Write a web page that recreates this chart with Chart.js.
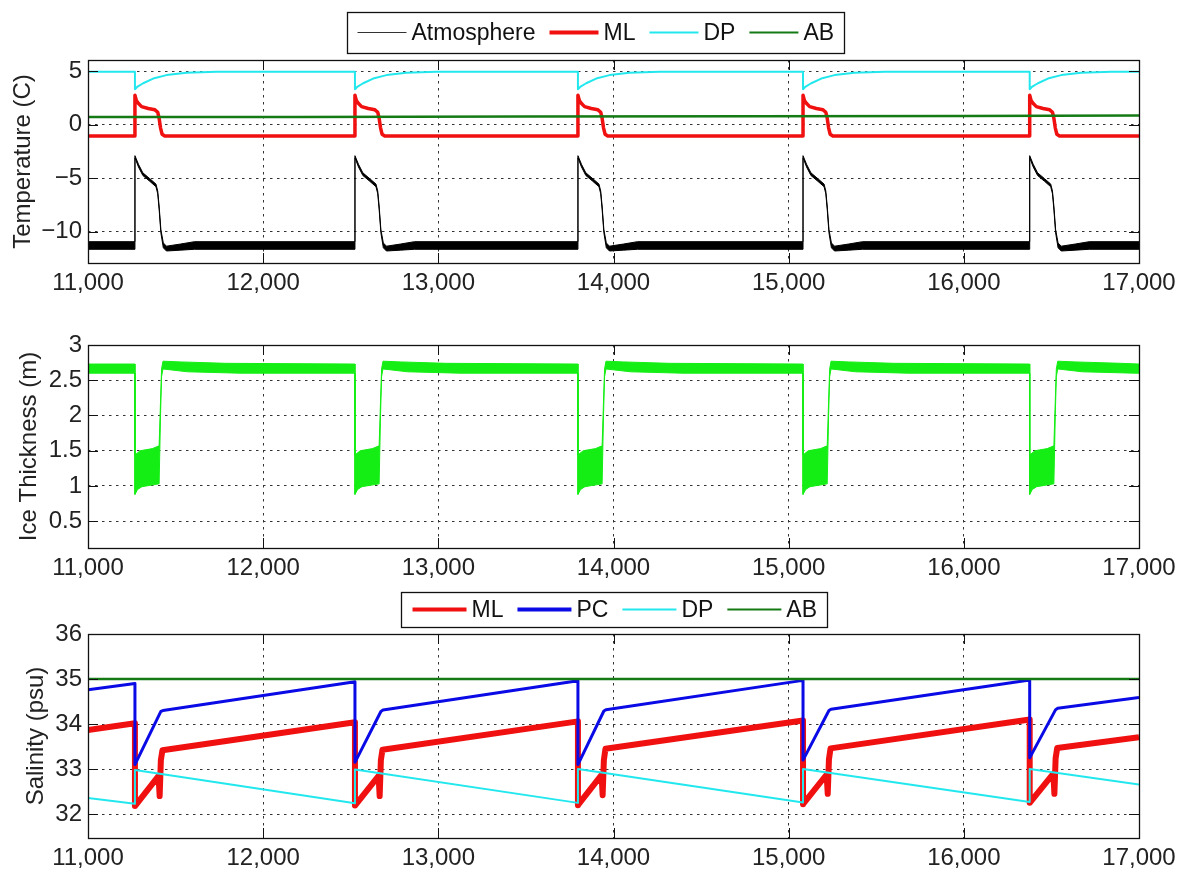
<!DOCTYPE html>
<html><head><meta charset="utf-8">
<script src="https://cdn.jsdelivr.net/npm/chart.js@4.4.1/dist/chart.umd.min.js"></script>
<style>
html,body{margin:0;padding:0;background:#fff;}
#wrap{position:relative;width:1187px;height:871px;overflow:hidden;background:#fff;}
canvas{position:absolute;left:0;}
</style></head><body>
<div id="wrap">
<canvas id="c1" width="1187" height="300" style="top:0px"></canvas>
<canvas id="c2" width="1187" height="285" style="top:300px"></canvas>
<canvas id="c3" width="1187" height="286" style="top:585px"></canvas>
</div>
<script>
// ---------- tick labels ----------
const xTicks = [11000, 12000, 13000, 14000, 15000, 16000, 17000];
const yTicksTemp = [-10, -5, 0, 5];
const yTicksIce = [0.5, 1, 1.5, 2, 2.5, 3];
const yTicksSal = [32, 33, 34, 35, 36];

// ---------- legend labels ----------
const legendTempLabels = ['Atmosphere', 'ML', 'DP', 'AB'];
const legendSalLabels = ['ML', 'PC', 'DP', 'AB'];

// ---------- Panel 1: temperature (C) ----------
const atmHi = [
 [11000,-10.93],
 [11268,-10.93],[11268,-2.9],[11288,-3.7],[11313,-4.5],[11353,-5.05],[11388,-5.55],[11398,-6.2],[11406,-7.6],[11416,-9.8],[11430,-11.05],[11448,-11.35],[11528,-11.15],[11608,-10.93],
 [12524,-10.93],[12524,-2.9],[12544,-3.7],[12569,-4.5],[12609,-5.05],[12644,-5.55],[12654,-6.2],[12662,-7.6],[12672,-9.8],[12686,-11.05],[12704,-11.35],[12784,-11.15],[12864,-10.93],
 [13797,-10.93],[13797,-2.9],[13817,-3.7],[13842,-4.5],[13882,-5.05],[13917,-5.55],[13927,-6.2],[13935,-7.6],[13945,-9.8],[13959,-11.05],[13977,-11.35],[14057,-11.15],[14137,-10.93],
 [15082,-10.93],[15082,-2.9],[15102,-3.7],[15127,-4.5],[15167,-5.05],[15202,-5.55],[15212,-6.2],[15220,-7.6],[15230,-9.8],[15244,-11.05],[15262,-11.35],[15342,-11.15],[15422,-10.93],
 [16376,-10.93],[16376,-2.9],[16396,-3.7],[16421,-4.5],[16461,-5.05],[16496,-5.55],[16506,-6.2],[16514,-7.6],[16524,-9.8],[16538,-11.05],[16556,-11.35],[16636,-11.15],[16716,-10.93],
 [17000,-10.93]
];
const atmLo = [
 [11000,-11.64],
 [11268,-11.64],[11268,-3.1],[11288,-3.95],[11313,-4.75],[11353,-5.3],[11388,-5.8],[11398,-6.45],[11406,-7.9],[11416,-10.1],[11430,-11.5],[11448,-11.8],[11528,-11.72],[11608,-11.64],
 [12524,-11.64],[12524,-3.1],[12544,-3.95],[12569,-4.75],[12609,-5.3],[12644,-5.8],[12654,-6.45],[12662,-7.9],[12672,-10.1],[12686,-11.5],[12704,-11.8],[12784,-11.72],[12864,-11.64],
 [13797,-11.64],[13797,-3.1],[13817,-3.95],[13842,-4.75],[13882,-5.3],[13917,-5.8],[13927,-6.45],[13935,-7.9],[13945,-10.1],[13959,-11.5],[13977,-11.8],[14057,-11.72],[14137,-11.64],
 [15082,-11.64],[15082,-3.1],[15102,-3.95],[15127,-4.75],[15167,-5.3],[15202,-5.8],[15212,-6.45],[15220,-7.9],[15230,-10.1],[15244,-11.5],[15262,-11.8],[15342,-11.72],[15422,-11.64],
 [16376,-11.64],[16376,-3.1],[16396,-3.95],[16421,-4.75],[16461,-5.3],[16496,-5.8],[16506,-6.45],[16514,-7.9],[16524,-10.1],[16538,-11.5],[16556,-11.8],[16636,-11.72],[16716,-11.64],
 [17000,-11.64]
];
const mlTemp = [
 [11000,-1.06],
 [11268,-1.06],[11268,2.75],[11276,2.25],[11287,2.0],[11306,1.68],[11344,1.5],[11382,1.38],[11398,1.15],[11406,0.6],[11414,-0.3],[11423,-0.9],[11438,-1.06],
 [12524,-1.06],[12524,2.75],[12532,2.25],[12543,2.0],[12562,1.68],[12600,1.5],[12638,1.38],[12654,1.15],[12662,0.6],[12670,-0.3],[12679,-0.9],[12694,-1.06],
 [13797,-1.06],[13797,2.75],[13805,2.25],[13816,2.0],[13835,1.68],[13873,1.5],[13911,1.38],[13927,1.15],[13935,0.6],[13943,-0.3],[13952,-0.9],[13967,-1.06],
 [15082,-1.06],[15082,2.75],[15090,2.25],[15101,2.0],[15120,1.68],[15158,1.5],[15196,1.38],[15212,1.15],[15220,0.6],[15228,-0.3],[15237,-0.9],[15252,-1.06],
 [16376,-1.06],[16376,2.75],[16384,2.25],[16395,2.0],[16414,1.68],[16452,1.5],[16490,1.38],[16506,1.15],[16514,0.6],[16522,-0.3],[16531,-0.9],[16546,-1.06],
 [17000,-1.06]
];
const dpTemp = [
 [11000,4.93],
 [11268,4.93],[11268,3.3],[11283,3.55],[11315,3.86],[11372,4.3],[11448,4.62],[11562,4.84],[11734,4.93],
 [12524,4.93],[12524,3.3],[12539,3.55],[12571,3.86],[12628,4.3],[12704,4.62],[12818,4.84],[12990,4.93],
 [13797,4.93],[13797,3.3],[13812,3.55],[13844,3.86],[13901,4.3],[13977,4.62],[14091,4.84],[14263,4.93],
 [15082,4.93],[15082,3.3],[15097,3.55],[15129,3.86],[15186,4.3],[15262,4.62],[15376,4.84],[15548,4.93],
 [16376,4.93],[16376,3.3],[16391,3.55],[16423,3.86],[16480,4.3],[16556,4.62],[16670,4.84],[16842,4.93],
 [17000,4.93]
];
const abTemp = [[11000,0.70],[12200,0.72],[13500,0.75],[14800,0.78],[16000,0.80],[17000,0.84]];

// ---------- Panel 2: ice thickness (m), band envelope ----------
const iceHi = [
 [11000,2.73],
 [11268,2.73],[11268,1.44],[11298,1.5],[11368,1.53],[11406,1.57],[11414,2.2],[11420,2.66],[11428,2.77],[11528,2.76],[11788,2.74],
 [12524,2.73],[12524,1.44],[12554,1.5],[12624,1.53],[12662,1.57],[12670,2.2],[12676,2.66],[12684,2.77],[12784,2.76],[13044,2.74],
 [13797,2.73],[13797,1.44],[13827,1.5],[13897,1.53],[13935,1.57],[13943,2.2],[13949,2.66],[13957,2.77],[14057,2.76],[14317,2.74],
 [15082,2.73],[15082,1.44],[15112,1.5],[15182,1.53],[15220,1.57],[15228,2.2],[15234,2.66],[15242,2.77],[15342,2.76],[15602,2.74],
 [16376,2.73],[16376,1.44],[16406,1.5],[16476,1.53],[16514,1.57],[16522,2.2],[16528,2.66],[16536,2.77],[16636,2.76],[16896,2.74],
 [17000,2.73]
];
const iceLo = [
 [11000,2.6],
 [11268,2.6],[11268,0.88],[11283,0.95],[11308,0.99],[11406,1.03],[11414,2.0],[11420,2.55],[11428,2.66],[11568,2.62],[11868,2.6],
 [12524,2.6],[12524,0.88],[12539,0.95],[12564,0.99],[12662,1.03],[12670,2.0],[12676,2.55],[12684,2.66],[12824,2.62],[13124,2.6],
 [13797,2.6],[13797,0.88],[13812,0.95],[13837,0.99],[13935,1.03],[13943,2.0],[13949,2.55],[13957,2.66],[14097,2.62],[14397,2.6],
 [15082,2.6],[15082,0.88],[15097,0.95],[15122,0.99],[15220,1.03],[15228,2.0],[15234,2.55],[15242,2.66],[15382,2.62],[15682,2.6],
 [16376,2.6],[16376,0.88],[16391,0.95],[16416,0.99],[16514,1.03],[16522,2.0],[16528,2.55],[16536,2.66],[16676,2.62],[16976,2.6],
 [17000,2.6]
];

// ---------- Panel 3: salinity (psu) ----------
const mlSal = [
 [11000,33.87],
 [11268,34.02],[11268,32.18],[11403,32.85],[11409,32.4],[11416,33.2],[11425,33.42],
 [12524,34.04],[12524,32.19],[12659,32.85],[12665,32.4],[12672,33.2],[12681,33.43],
 [13797,34.06],[13797,32.2],[13932,32.87],[13938,32.42],[13945,33.2],[13954,33.45],
 [15082,34.08],[15082,32.22],[15217,32.88],[15223,32.45],[15230,33.22],[15239,33.46],
 [16376,34.1],[16376,32.25],[16511,32.9],[16517,32.45],[16524,33.24],[16533,33.47],
 [17000,33.71]
];
const pcSal = [
 [11000,34.76],
 [11268,34.90],[11268,33.1],[11416,34.28],[11428,34.3],
 [12524,34.94],[12524,33.15],[12672,34.28],[12684,34.31],
 [13797,34.96],[13797,33.1],[13945,34.29],[13957,34.32],
 [15082,34.97],[15082,33.2],[15230,34.3],[15242,34.33],
 [16376,34.98],[16376,33.25],[16524,34.32],[16536,34.35],
 [17000,34.59]
];
const dpSal = [
 [11000,32.36],
 [11268,32.23],[11268,32.98],
 [12524,32.24],[12524,32.99],
 [13797,32.25],[13797,33.0],
 [15082,32.26],[15082,33.0],
 [16376,32.27],[16376,33.0],
 [17000,32.66]
];
const abSal = [[11000,35.0],[17000,35.0]];

// ---------- rendering ----------
const FONT = '"Liberation Sans", Arial, Helvetica, sans-serif';
Chart.defaults.font.family = FONT;
Chart.defaults.color = '#222';

const C_RED = '#f01010', C_CYAN = '#22e8ee', C_GREEN = '#147a14', C_BLUE = '#0a0ae6', C_ICE = '#14ee14';

const pts = a => a.map(([x, y]) => ({x, y}));
const fmtThousands = v => String(v).replace(/\B(?=(\d{3})+(?!\d))/g, ',');
const fmtMinus = v => (v < 0 ? '\u2212' + (-v) : String(v));

function line(label, data, color, width, order, extra) {
  return Object.assign({
    label, data: pts(data), borderColor: color, backgroundColor: color,
    borderWidth: width, pointRadius: 0, tension: 0, fill: false, order,
    borderJoinStyle: 'round', borderCapStyle: 'butt'
  }, extra || {});
}

function makeScales(yMin, yMax, yTickVals, yFmt, yTitle, titlePad, xHeight) {
  const gridCfg = { color: '#333', lineWidth: 1, drawTicks: false };
  return {
    x: {
      type: 'linear', min: 11000, max: 17000,
      afterBuildTicks: s => { s.ticks = xTicks.map(v => ({value: v})); },
      afterFit: s => { s.height = xHeight; },
      ticks: { padding: 6, maxRotation: 0, autoSkip: false, font: {size: 24}, color: '#222', callback: v => fmtThousands(v) },
      grid: gridCfg,
      border: { display: false, dash: [2.5, 4.5] }
    },
    y: {
      type: 'linear', min: yMin, max: yMax,
      afterBuildTicks: s => { s.ticks = yTickVals.map(v => ({value: v})); },
      afterFit: s => { s.width = 88; },
      ticks: { padding: 6, autoSkip: false, font: {size: 24}, color: '#222', callback: v => yFmt(v) },
      grid: gridCfg,
      border: { display: false, dash: [2.5, 4.5] },
      title: { display: true, text: yTitle, font: {size: 24}, color: '#222', padding: {top: titlePad, bottom: 0} }
    }
  };
}

const framePlugin = {
  id: 'frame',
  afterDraw(chart, args, opts) {
    const {ctx, chartArea: a, scales} = chart;
    ctx.save();
    ctx.strokeStyle = '#111';
    ctx.lineWidth = 1;
    ctx.beginPath();
    scales.x.ticks.forEach(t => {
      const px = Math.round(scales.x.getPixelForValue(t.value)) + 0.5;
      ctx.moveTo(px, a.bottom); ctx.lineTo(px, a.bottom - 10);
      ctx.moveTo(px, a.top); ctx.lineTo(px, a.top + 10);
    });
    scales.y.ticks.forEach(t => {
      const py = Math.round(scales.y.getPixelForValue(t.value)) + 0.5;
      ctx.moveTo(a.left, py); ctx.lineTo(a.left + 10, py);
      ctx.moveTo(a.right, py); ctx.lineTo(a.right - 10, py);
    });
    ctx.stroke();
    ctx.lineWidth = 1.3;
    ctx.strokeRect(Math.round(a.left) + 0.5, Math.round(a.top) + 0.5, Math.round(a.right - a.left), Math.round(a.bottom - a.top));
    const L = opts.legend;
    if (L) {
      ctx.font = '23px ' + FONT;
      const widths = L.items.map(it => ctx.measureText(it.label).width);
      let total = L.padL + L.padR + (L.items.length - 1) * L.sep;
      widths.forEach(w => { total += L.lineLen + L.gap + w; });
      const x0 = Math.round(L.cx - total / 2) + 0.5;
      const y0 = Math.round(L.cy - L.h / 2) + 0.5;
      ctx.fillStyle = '#fff';
      ctx.fillRect(x0, y0, total, L.h);
      ctx.strokeStyle = '#111';
      ctx.lineWidth = 1.3;
      ctx.strokeRect(x0, y0, Math.round(total), L.h);
      let x = x0 + L.padL;
      L.items.forEach((it, i) => {
        ctx.strokeStyle = it.color;
        ctx.lineWidth = it.width;
        ctx.beginPath();
        ctx.moveTo(x, L.cy); ctx.lineTo(x + L.lineLen, L.cy);
        ctx.stroke();
        x += L.lineLen + L.gap;
        ctx.fillStyle = '#111';
        ctx.textAlign = 'left';
        ctx.textBaseline = 'middle';
        ctx.fillText(it.label, x, L.cy + 1);
        x += widths[i] + L.sep;
      });
    }
    ctx.restore();
  }
};

const baseOpts = (scales, padTop, legend) => ({
  responsive: false, animation: false, devicePixelRatio: 1,
  layout: { padding: { left: 0, right: 48, top: padTop, bottom: 0 } },
  plugins: { legend: { display: false }, tooltip: { enabled: false }, frame: { legend } },
  scales
});

// Panel 1
const legendTempStyles = [
  { color: '#333', width: 1 }, { color: C_RED, width: 4 }, { color: C_CYAN, width: 2 }, { color: C_GREEN, width: 2 }
];
new Chart(document.getElementById('c1'), {
  type: 'line',
  data: { datasets: [
    line('Atmosphere', atmHi, '#000', 1, 10),
    line('Atmosphere (low)', atmLo, '#000', 1, 9, { fill: '-1', backgroundColor: '#000' }),
    line('ML', mlTemp, C_RED, 3.5, 3),
    line('DP', dpTemp, C_CYAN, 2, 2),
    line('AB', abTemp, C_GREEN, 2.5, 1)
  ]},
  options: baseOpts(makeScales(-12.92, 6.03, yTicksTemp, fmtMinus, 'Temperature (C)', 9, 37), 60, {
    cx: 595.5, cy: 32.5, h: 41, lineLen: 49, gap: 5, sep: 14, padL: 10, padR: 10,
    items: legendTempLabels.map((l, i) => Object.assign({ label: l }, legendTempStyles[i]))
  }),
  plugins: [framePlugin]
});

// Panel 2
new Chart(document.getElementById('c2'), {
  type: 'line',
  data: { datasets: [
    line('Ice', iceHi, C_ICE, 1, 2),
    line('Ice (low)', iceLo, C_ICE, 1, 1, { fill: '-1', backgroundColor: C_ICE })
  ]},
  options: baseOpts(makeScales(0.12, 3, yTicksIce, v => String(v), 'Ice Thickness (m)', 15, 37), 45, null),
  plugins: [framePlugin]
});

// Panel 3
const legendSalStyles = [
  { color: C_RED, width: 4 }, { color: C_BLUE, width: 4 }, { color: C_CYAN, width: 2 }, { color: C_GREEN, width: 2 }
];
new Chart(document.getElementById('c3'), {
  type: 'line',
  data: { datasets: [
    line('ML', mlSal, C_RED, 6, 4),
    line('PC', pcSal, C_BLUE, 3, 3),
    line('DP', dpSal, C_CYAN, 2, 2),
    line('AB', abSal, C_GREEN, 2.5, 1)
  ]},
  options: baseOpts(makeScales(31.47, 36, yTicksSal, v => String(v), 'Salinity (psu)', 22, 33), 49, {
    cx: 613.5, cy: 24.5, h: 35, lineLen: 54, gap: 5, sep: 14, padL: 11, padR: 10,
    items: legendSalLabels.map((l, i) => Object.assign({ label: l }, legendSalStyles[i]))
  }),
  plugins: [framePlugin]
});
</script>
</body></html>
